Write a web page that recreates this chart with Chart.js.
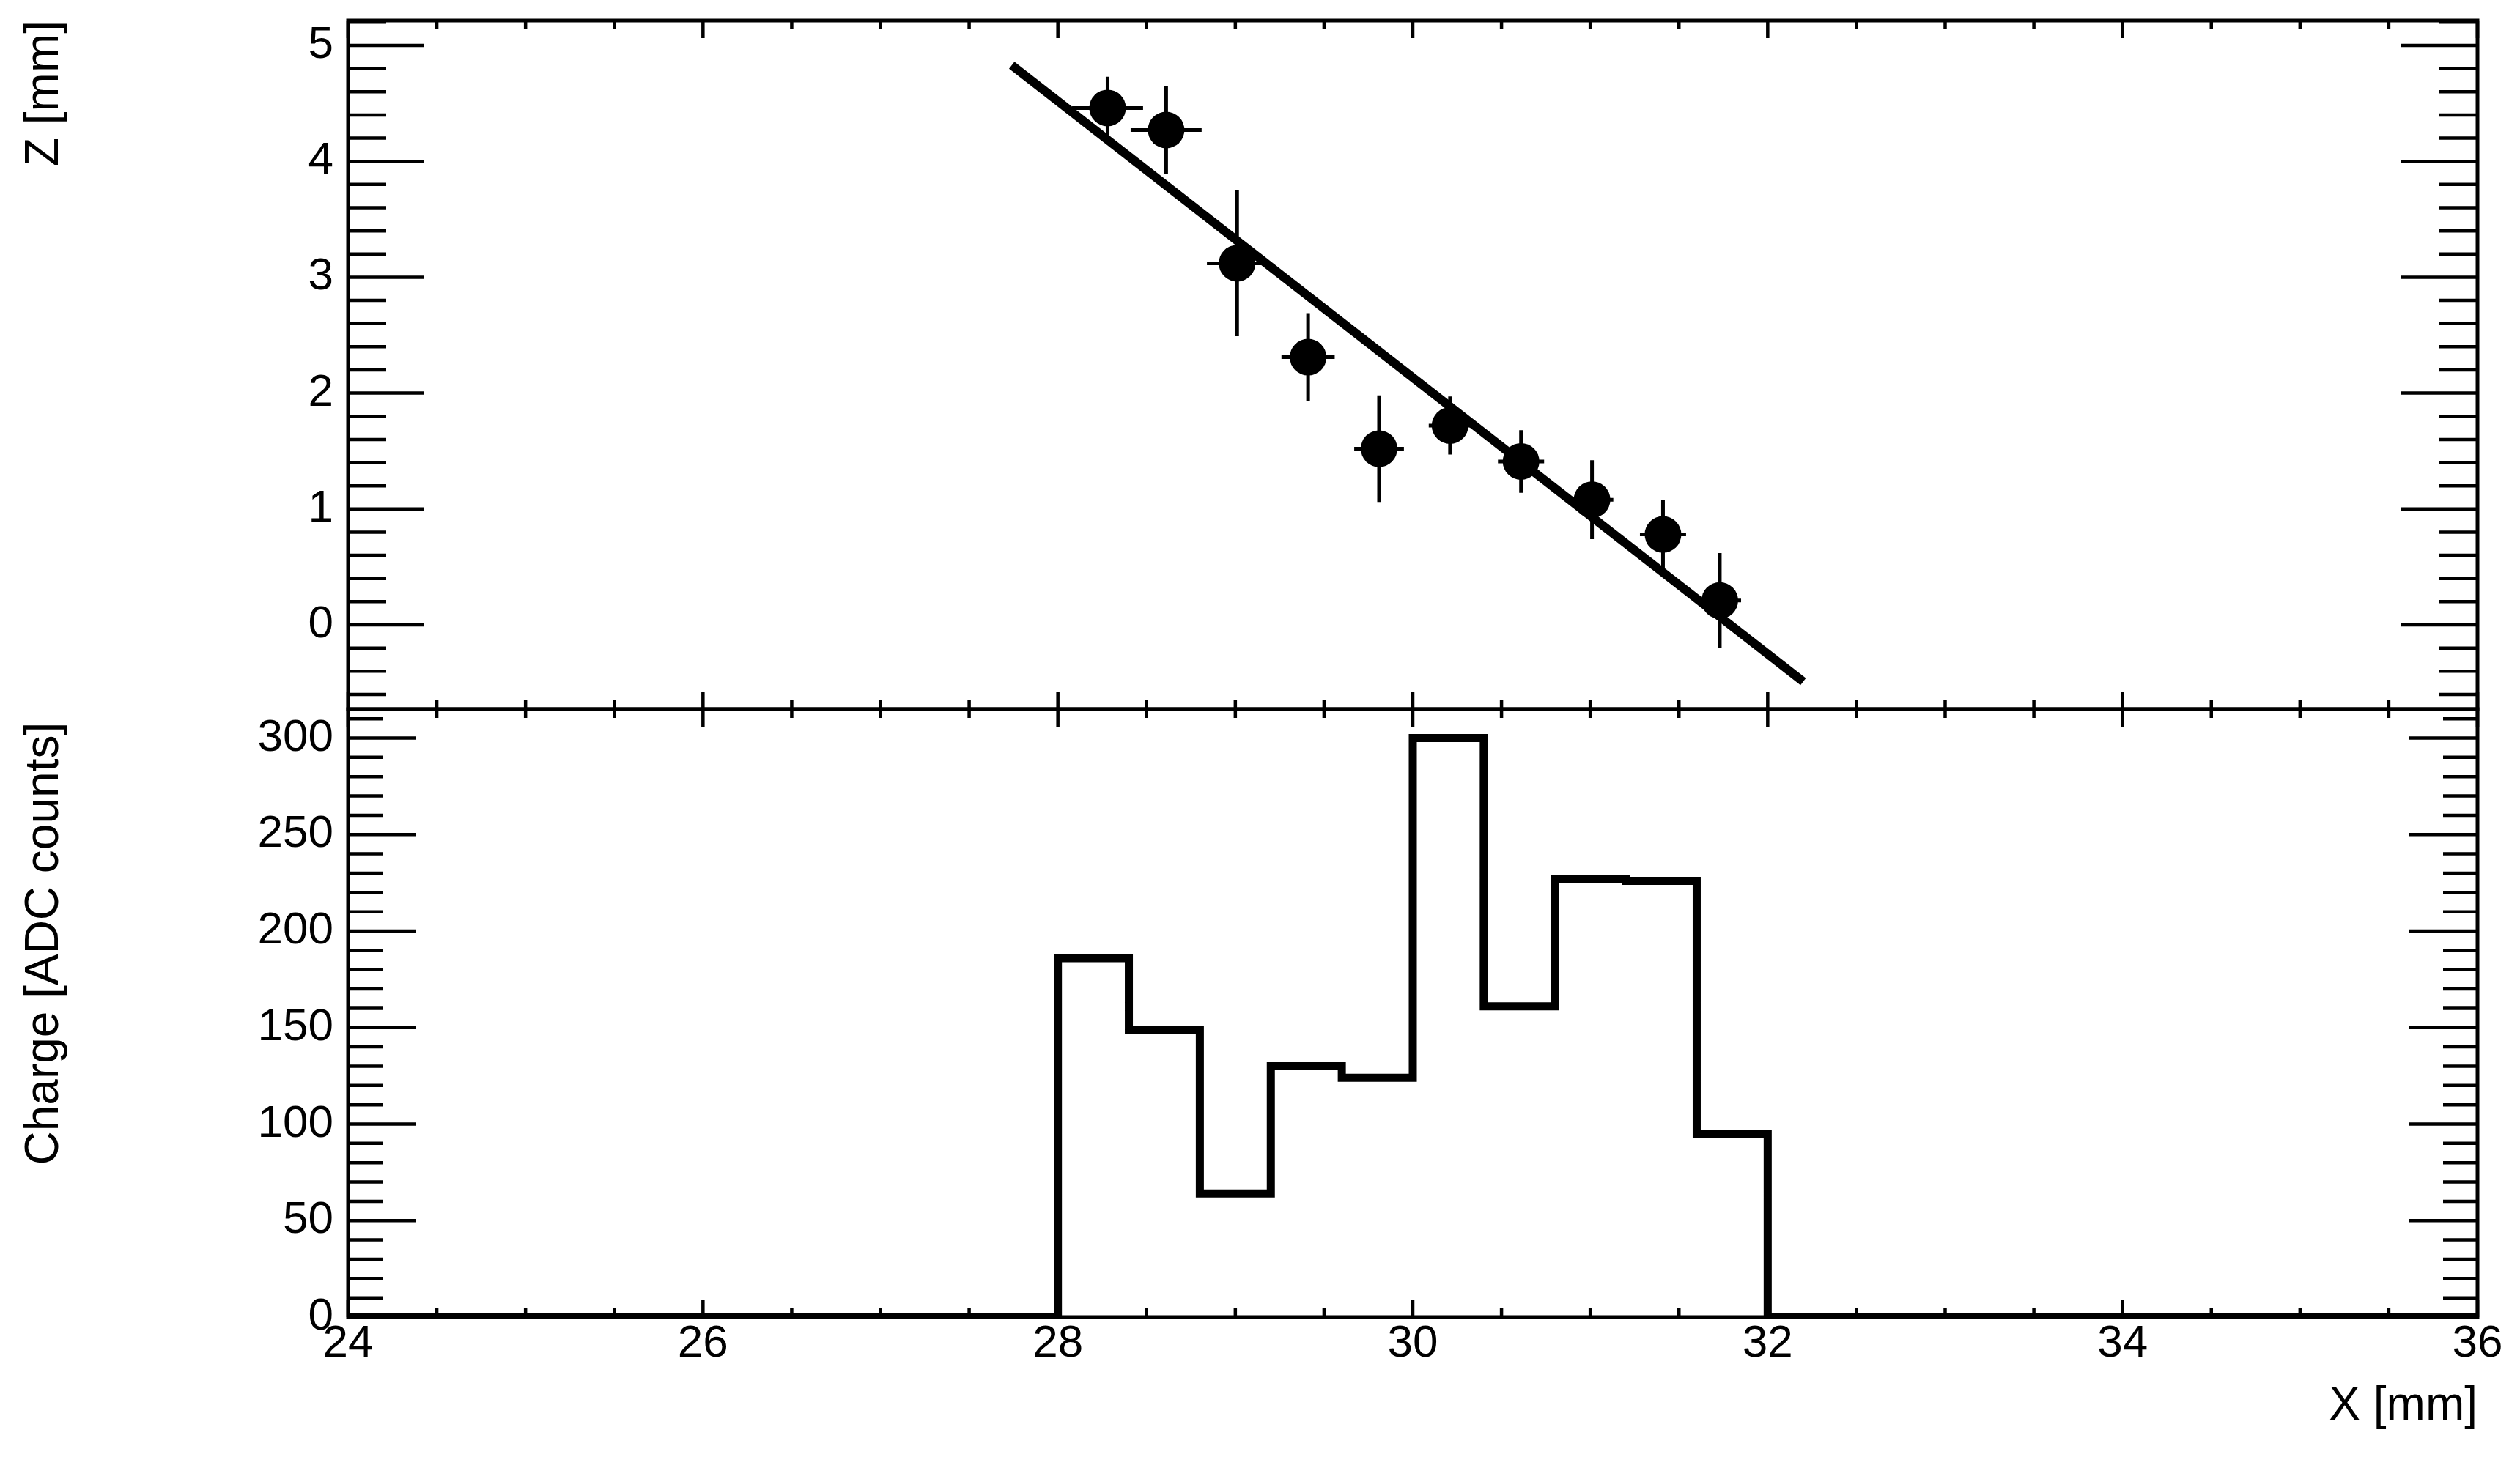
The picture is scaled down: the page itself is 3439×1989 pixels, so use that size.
<!DOCTYPE html>
<html lang="en">

<head>
    <meta charset="UTF-8">
    <title>Track fit and charge</title>
    <style>
        body {
            margin: 0;
            background: #fff;
            overflow: hidden;
        }
    </style>
    <script src="https://cdn.jsdelivr.net/npm/chart.js"></script>
</head>

<body>
    <canvas id="chart" width="3439" height="1989"></canvas>

    <script>
        // hits (top pad)
        const hitX = [28.28, 28.61, 29.01, 29.41, 29.81, 30.21, 30.61, 31.01, 31.41, 31.73];
        const hitZ = [4.46, 4.27, 3.12, 2.31, 1.52, 1.72, 1.41, 1.08, 0.78, 0.21];
        const hitXErr = [0.20, 0.20, 0.17, 0.15, 0.14, 0.12, 0.13, 0.12, 0.13, 0.12];
        const hitZErr = [0.27, 0.38, 0.63, 0.38, 0.46, 0.25, 0.27, 0.34, 0.30, 0.41];

        // fitted track, end points
        const fitX = [27.74, 32.20];
        const fitZ = [4.83, -0.49];

        // charge histogram (bottom pad), bin low edges
        const binLow = [28.0, 28.4, 28.8, 29.2, 29.6, 30.0, 30.4, 30.8, 31.2, 31.6];
        const charge = [186, 149, 64, 130, 124, 300, 161, 227, 226, 95];
        const binWidth = 0.4;

        // axes
        const xRange = [24, 36];
        const zRange = [-0.727, 5.215];
        const qRange = [0, 315];
        const xTicks = [24, 26, 28, 30, 32, 34, 36];
        const zTicks = [0, 1, 2, 3, 4, 5];
        const qTicks = [0, 50, 100, 150, 200, 250, 300];

        // minor ticks
        function steps(from, to, step) {
            const out = [];
            for (let v = from; v <= to + 1e-9; v += step) out.push(Math.round(v * 1000) / 1000);
            return out;
        }
        const xMinor = steps(24, 36, 0.5);
        const zMinor = steps(-0.6, 5.2, 0.2);
        const qMinor = steps(0, 310, 10);

        Chart.defaults.font.family = "'Liberation Sans', Arial, Helvetica, sans-serif";
        Chart.defaults.color = '#000';

        const histPoints = [{ x: xRange[0], y: 0 }];
        binLow.forEach((b, i) => histPoints.push({ x: b, y: charge[i] }));
        histPoints.push({ x: binLow[binLow.length - 1] + binWidth, y: 0 });
        histPoints.push({ x: xRange[1], y: 0 });

        // error bars for the hits
        const errorBars = {
            id: 'errorBars',
            beforeDatasetsDraw(chart) {
                const { ctx, scales: { x, yZ } } = chart;
                ctx.save();
                ctx.strokeStyle = '#000';
                ctx.lineWidth = 5;
                ctx.beginPath();
                hitX.forEach((v, i) => {
                    const px = x.getPixelForValue(v);
                    const py = yZ.getPixelForValue(hitZ[i]);
                    ctx.moveTo(x.getPixelForValue(v - hitXErr[i]), py);
                    ctx.lineTo(x.getPixelForValue(v + hitXErr[i]), py);
                    ctx.moveTo(px, yZ.getPixelForValue(hitZ[i] - hitZErr[i]));
                    ctx.lineTo(px, yZ.getPixelForValue(hitZ[i] + hitZErr[i]));
                });
                ctx.stroke();
                ctx.restore();
            }
        };

        // ROOT style frames with ticks on all four sides
        const rootFrame = {
            id: 'rootFrame',
            afterDatasetsDraw(chart) {
                const { ctx, scales: { x, yZ, yQ } } = chart;
                ctx.save();
                ctx.strokeStyle = '#000';
                const pads = [
                    [yZ, zTicks, zMinor, 104, 52],
                    [yQ, qTicks, qMinor, 93, 47]
                ];
                for (const [ys, major, minor, lMaj, lMin] of pads) {
                    const top = ys.top, bot = ys.bottom, left = x.left, right = x.right;
                    ctx.lineWidth = 5;
                    ctx.strokeRect(left, top, right - left, bot - top);
                    ctx.lineWidth = 4.5;
                    ctx.beginPath();
                    const yTick = (vals, len) => vals.forEach(v => {
                        const py = ys.getPixelForValue(v);
                        if (py < top - 1 || py > bot + 1) return;
                        ctx.moveTo(left, py); ctx.lineTo(left + len, py);
                        ctx.moveTo(right, py); ctx.lineTo(right - len, py);
                    });
                    yTick(major, lMaj);
                    yTick(minor, lMin);
                    const xTick = (vals, len) => vals.forEach(v => {
                        const px = x.getPixelForValue(v);
                        ctx.moveTo(px, top); ctx.lineTo(px, top + len);
                        ctx.moveTo(px, bot); ctx.lineTo(px, bot - len);
                    });
                    xTick(xTicks, 24);
                    xTick(xMinor, 12);
                    ctx.stroke();
                }
                ctx.restore();
            }
        };

        const noGrid = { display: false, drawTicks: false };

        // keep the frames exactly where the layout puts them
        function fixY(s) {
            s.width = 475;
            s.paddingTop = 0;
            s.paddingBottom = 0;
        }

        new Chart(document.getElementById('chart').getContext('2d'), {
            type: 'line',
            data: {
                datasets: [
                    {
                        label: 'fit',
                        data: fitX.map((v, i) => ({ x: v, y: fitZ[i] })),
                        yAxisID: 'yZ',
                        borderColor: '#000',
                        borderWidth: 12,
                        borderCapStyle: 'butt',
                        pointRadius: 0
                    },
                    {
                        label: 'hits',
                        type: 'scatter',
                        data: hitX.map((v, i) => ({ x: v, y: hitZ[i] })),
                        yAxisID: 'yZ',
                        pointRadius: 25,
                        pointBackgroundColor: '#000',
                        pointBorderWidth: 0,
                        showLine: false
                    },
                    {
                        label: 'charge',
                        data: histPoints,
                        yAxisID: 'yQ',
                        stepped: true,
                        borderColor: '#000',
                        borderWidth: 11,
                        borderJoinStyle: 'miter',
                        borderCapStyle: 'butt',
                        pointRadius: 0
                    }
                ]
            },
            options: {
                responsive: false,
                animation: false,
                layout: { padding: { top: 28, right: 58, left: 0, bottom: 0 } },
                plugins: {
                    legend: { display: false },
                    tooltip: { enabled: false }
                },
                scales: {
                    x: {
                        type: 'linear',
                        position: 'bottom',
                        min: xRange[0],
                        max: xRange[1],
                        grid: noGrid,
                        border: { display: false },
                        afterBuildTicks: s => { s.ticks = xTicks.map(v => ({ value: v })); },
                        afterFit: s => { s.height = 191; s.paddingLeft = 0; s.paddingRight = 0; },
                        ticks: {
                            padding: 0,
                            autoSkip: false,
                            maxRotation: 0,
                            font: { size: 62 },
                            callback: v => String(v)
                        },
                        title: {
                            display: true,
                            text: 'X [mm]',
                            align: 'end',
                            font: { size: 64 },
                            padding: { top: 0, bottom: 30 }
                        }
                    },
                    yZ: {
                        type: 'linear',
                        position: 'left',
                        stack: 'pads',
                        stackWeight: 940,
                        weight: 1,
                        min: zRange[0],
                        max: zRange[1],
                        grid: noGrid,
                        border: { display: false },
                        afterBuildTicks: s => { s.ticks = zTicks.map(v => ({ value: v })); },
                        afterFit: fixY,
                        ticks: {
                            padding: 20,
                            autoSkip: false,
                            font: { size: 62 },
                            callback: v => String(v)
                        },
                        title: {
                            display: true,
                            text: 'Z [mm]',
                            align: 'end',
                            font: { size: 64 },
                            padding: { top: 23, bottom: 0 }
                        }
                    },
                    yQ: {
                        type: 'linear',
                        position: 'left',
                        stack: 'pads',
                        stackWeight: 830,
                        weight: 0,
                        min: qRange[0],
                        max: qRange[1],
                        grid: noGrid,
                        border: { display: false },
                        afterBuildTicks: s => { s.ticks = qTicks.map(v => ({ value: v })); },
                        afterFit: fixY,
                        ticks: {
                            padding: 20,
                            autoSkip: false,
                            font: { size: 62 },
                            callback: v => String(v)
                        },
                        title: {
                            display: true,
                            // trailing space keeps the end of the title a little below the frame top, as in ROOT
                            text: 'Charge [ADC counts] ',
                            align: 'end',
                            font: { size: 64 },
                            padding: { top: 23, bottom: 0 }
                        }
                    }
                }
            },
            plugins: [errorBars, rootFrame]
        });
    </script>
</body>

</html>
